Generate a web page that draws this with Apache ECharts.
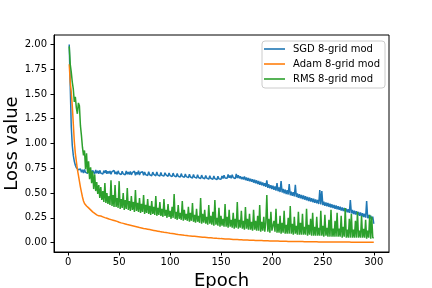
<!DOCTYPE html>
<html>
<head>
<meta charset="utf-8">
<script src="https://cdn.jsdelivr.net/npm/echarts@6/dist/echarts.min.js"></script>
<style>html,body{margin:0;padding:0;background:#fff}#c{width:432px;height:288px}</style>
</head>
<body>
<div id="c"></div>
<script>
var seriesNames = ['SGD 8-grid mod', 'Adam 8-grid mod', 'RMS 8-grid mod'];
var xTicks = [0, 50, 100, 150, 200, 250, 300];
var yTicks = [0, 0.25, 0.5, 0.75, 1.0, 1.25, 1.5, 1.75, 2.0];

var sgd = [
2.00,1.58,1.17,0.98,0.88,0.82,0.78,0.755,0.74,0.735,
0.715,0.742,0.71,0.735,0.702,0.738,0.708,0.725,0.698,0.732,
0.705,0.73,0.696,0.728,0.712,0.694,0.733,0.7,0.724,0.695,
0.729,0.701,0.718,0.692,0.726,0.703,0.731,0.694,0.72,0.698,
0.722,0.689,0.717,0.7,0.728,0.692,0.715,0.688,0.724,0.697,
0.712,0.686,0.72,0.694,0.709,0.684,0.723,0.69,0.713,0.687,
0.718,0.683,0.706,0.692,0.721,0.68,0.71,0.688,0.725,0.682,
0.707,0.69,0.715,0.679,0.712,0.686,0.704,0.677,0.716,0.684,
0.702,0.675,0.711,0.688,0.699,0.674,0.713,0.681,0.697,0.672,
0.708,0.678,0.694,0.671,0.705,0.683,0.692,0.668,0.703,0.676,
0.69,0.666,0.701,0.674,0.688,0.664,0.698,0.67,0.684,0.661,
0.696,0.668,0.682,0.658,0.693,0.665,0.679,0.655,0.69,0.662,
0.676,0.652,0.688,0.66,0.673,0.65,0.684,0.657,0.67,0.646,
0.681,0.654,0.667,0.643,0.678,0.651,0.664,0.64,0.675,0.648,
0.661,0.638,0.672,0.645,0.658,0.635,0.669,0.643,0.655,0.64,
0.672,0.646,0.68,0.652,0.668,0.648,0.688,0.655,0.676,0.65,
0.684,0.656,0.672,0.645,0.694,0.652,0.679,0.648,0.67,0.641,
0.662,0.636,0.668,0.63,0.657,0.625,0.652,0.62,0.645,0.614,
0.64,0.605,0.634,0.598,0.628,0.59,0.622,0.583,0.614,0.578,
0.606,0.57,0.6,0.562,0.628,0.553,0.588,0.547,0.58,0.54,
0.575,0.532,0.566,0.525,0.6,0.518,0.556,0.51,0.62,0.505,
0.542,0.498,0.535,0.49,0.528,0.485,0.59,0.478,0.515,0.472,
0.508,0.466,0.582,0.46,0.495,0.452,0.488,0.446,0.48,0.44,
0.475,0.433,0.468,0.427,0.46,0.42,0.455,0.415,0.448,0.408,
0.442,0.402,0.435,0.396,0.43,0.39,0.53,0.385,0.52,0.378,
0.412,0.372,0.405,0.366,0.4,0.36,0.393,0.354,0.386,0.348,
0.38,0.342,0.374,0.336,0.368,0.33,0.361,0.324,0.355,0.318,
0.35,0.312,0.343,0.306,0.337,0.3,0.43,0.295,0.33,0.289,
0.322,0.283,0.316,0.277,0.31,0.27,0.303,0.264,0.296,0.258,
0.29,0.252,0.42,0.246,0.278,0.24,0.272,0.233,0.262,0.19
];

var adam = [
1.80,1.62,1.52,1.38,1.20,1.02,0.90,0.82,0.74,0.68,
0.62,0.56,0.51,0.46,0.42,0.395,0.41,0.37,0.385,0.35,
0.36,0.33,0.345,0.31,0.32,0.295,0.305,0.28,0.285,0.27,
0.265,0.268,0.258,0.26,0.25,0.252,0.243,0.245,0.236,0.238,
0.231,0.232,0.225,0.226,0.219,0.22,0.213,0.214,0.208,0.205,
0.202,0.199,0.196,0.194,0.19,0.188,0.185,0.182,0.18,0.177,
0.174,0.172,0.169,0.167,0.164,0.162,0.159,0.157,0.155,0.152,
0.15,0.148,0.146,0.143,0.141,0.139,0.137,0.135,0.133,0.131,
0.129,0.127,0.125,0.123,0.121,0.119,0.117,0.115,0.113,0.111,
0.11,0.108,0.106,0.104,0.103,0.101,0.099,0.098,0.096,0.094,
0.093,0.091,0.09,0.088,0.087,0.085,0.084,0.082,0.081,0.08,
0.078,0.077,0.076,0.074,0.073,0.072,0.071,0.069,0.068,0.067,
0.066,0.065,0.064,0.063,0.062,0.061,0.06,0.059,0.058,0.057,
0.056,0.055,0.054,0.053,0.052,0.051,0.05,0.049,0.049,0.048,
0.047,0.046,0.045,0.045,0.044,0.043,0.042,0.042,0.041,0.04,
0.039,0.039,0.038,0.037,0.037,0.036,0.035,0.035,0.034,0.034,
0.033,0.032,0.032,0.031,0.031,0.03,0.03,0.029,0.029,0.028,
0.028,0.027,0.027,0.026,0.026,0.025,0.025,0.024,0.024,0.023,
0.023,0.023,0.022,0.022,0.021,0.021,0.021,0.02,0.02,0.02,
0.019,0.019,0.019,0.018,0.018,0.018,0.017,0.017,0.017,0.016,
0.016,0.016,0.016,0.015,0.015,0.015,0.015,0.014,0.014,0.014,
0.014,0.013,0.013,0.013,0.013,0.012,0.012,0.012,0.012,0.012,
0.011,0.011,0.011,0.011,0.011,0.01,0.01,0.01,0.01,0.01,
0.01,0.009,0.009,0.009,0.009,0.009,0.009,0.008,0.008,0.008,
0.008,0.008,0.008,0.008,0.007,0.007,0.007,0.007,0.007,0.007,
0.007,0.007,0.006,0.006,0.006,0.006,0.006,0.006,0.006,0.006,
0.006,0.006,0.005,0.005,0.005,0.005,0.005,0.005,0.005,0.005,
0.005,0.005,0.005,0.005,0.005,0.005,0.004,0.004,0.004,0.004,
0.004,0.004,0.004,0.004,0.004,0.004,0.004,0.004,0.004,0.004,
0.004,0.004,0.004,0.004,0.004,0.004,0.004,0.004,0.004,0.004
];

var rms = [
1.98,1.80,1.72,1.62,1.55,1.42,1.47,1.36,1.30,1.41,
1.38,1.18,1.08,0.96,0.88,0.93,0.74,0.9,0.7,0.82,
0.64,0.76,0.6,0.72,0.54,0.69,0.52,0.61,0.49,0.58,
0.45,0.56,0.43,0.52,0.41,0.6,0.4,0.5,0.39,0.47,
0.38,0.63,0.37,0.48,0.36,0.58,0.36,0.45,0.35,0.62,
0.34,0.44,0.35,0.5,0.33,0.43,0.34,0.55,0.33,0.42,
0.32,0.47,0.33,0.41,0.31,0.53,0.32,0.4,0.31,0.45,
0.3,0.39,0.31,0.48,0.29,0.38,0.3,0.44,0.29,0.37,
0.28,0.42,0.29,0.36,0.28,0.47,0.27,0.35,0.28,0.41,
0.27,0.34,0.26,0.44,0.27,0.33,0.25,0.39,0.26,0.32,
0.24,0.36,0.25,0.49,0.24,0.31,0.23,0.38,0.24,0.3,
0.23,0.42,0.22,0.33,0.23,0.29,0.22,0.36,0.21,0.3,
0.22,0.4,0.21,0.28,0.2,0.34,0.21,0.27,0.2,0.45,
0.19,0.29,0.2,0.33,0.19,0.26,0.18,0.38,0.19,0.27,
0.18,0.31,0.17,0.43,0.18,0.25,0.17,0.35,0.16,0.27,
0.17,0.24,0.16,0.39,0.16,0.26,0.15,0.33,0.16,0.23,
0.15,0.3,0.14,0.24,0.15,0.41,0.14,0.23,0.15,0.32,
0.14,0.22,0.13,0.36,0.14,0.24,0.13,0.29,0.13,0.21,
0.12,0.33,0.13,0.22,0.12,0.27,0.12,0.38,0.11,0.21,
0.12,0.26,0.11,0.2,0.48,0.11,0.24,0.1,0.31,0.12,
0.1,0.22,0.11,0.34,0.1,0.19,0.1,0.27,0.09,0.2,
0.1,0.32,0.09,0.18,0.09,0.25,0.09,0.37,0.09,0.19,
0.08,0.26,0.09,0.17,0.08,0.31,0.08,0.2,0.08,0.29,
0.08,0.16,0.08,0.34,0.07,0.18,0.08,0.24,0.07,0.3,
0.07,0.16,0.07,0.26,0.07,0.15,0.07,0.32,0.07,0.17,
0.06,0.28,0.07,0.15,0.06,0.23,0.06,0.33,0.06,0.14,
0.06,0.22,0.06,0.3,0.06,0.14,0.06,0.27,0.05,0.16,
0.06,0.35,0.05,0.13,0.05,0.24,0.05,0.29,0.05,0.13,
0.05,0.22,0.05,0.31,0.05,0.12,0.05,0.27,0.05,0.14,
0.05,0.23,0.04,0.12,0.05,0.28,0.04,0.26,0.05,0.05
];

function pairs(arr) {
  return arr.map(function (v, i) { return [i + 1, v]; });
}

var colors = ['#1f77b4', '#ff7f0e', '#2ca02c'];
var font = 'DejaVu Sans';
var chart = echarts.init(document.getElementById('c'), null, {renderer: 'canvas'});
chart.setOption({
  animation: false,
  backgroundColor: '#ffffff',
  color: colors,
  textStyle: {fontFamily: font},
  grid: {left: 54, right: 43, top: 35, bottom: 36, containLabel: false, outerBoundsMode: 'none',
    show: true, borderColor: '#000', borderWidth: 1, backgroundColor: 'transparent'},
  legend: {
    data: seriesNames,
    orient: 'vertical',
    left: 262,
    top: 41,
    padding: [2, 5, 3, 2],
    icon: 'rect',
    itemWidth: 21,
    itemHeight: 1.6,
    itemGap: 3,
    borderColor: '#cccccc',
    borderWidth: 1,
    borderRadius: 3,
    backgroundColor: '#ffffff',
    textStyle: {fontFamily: font, fontSize: 10, color: '#000', lineHeight: 12, padding: [0, 0, 0, 3]}
  },
  xAxis: {
    type: 'value',
    min: -13.95,
    max: 314.95,
    name: 'Epoch',
    nameLocation: 'middle',
    nameGap: 18,
    nameTextStyle: {fontFamily: font, fontSize: 18, color: '#000'},
    axisLine: {show: true, onZero: false, lineStyle: {color: '#000', width: 1}},
    axisTick: {show: true, length: 3.5, lineStyle: {color: '#000'}, customValues: xTicks},
    axisLabel: {fontFamily: font, fontSize: 10, color: '#000', margin: 5, customValues: xTicks},
    splitLine: {show: false}
  },
  yAxis: {
    type: 'value',
    min: -0.095,
    max: 2.095,
    name: 'Loss value',
    nameLocation: 'middle',
    nameGap: 33,
    nameMoveOverlap: false,
    nameTextStyle: {fontFamily: font, fontSize: 18, color: '#000'},
    axisLine: {show: true, onZero: false, lineStyle: {color: '#000', width: 1}},
    axisTick: {show: true, length: 3.5, lineStyle: {color: '#000'}, customValues: yTicks},
    axisLabel: {fontFamily: font, fontSize: 10, color: '#000', margin: 7, customValues: yTicks,
      formatter: function (v) { return v.toFixed(2); }},
    splitLine: {show: false}
  },
  series: [
    {name: seriesNames[0], type: 'line', data: pairs(sgd), showSymbol: false, symbol: 'none', lineStyle: {width: 1.5}, clip: true},
    {name: seriesNames[1], type: 'line', data: pairs(adam), showSymbol: false, symbol: 'none', lineStyle: {width: 1.5}, clip: true},
    {name: seriesNames[2], type: 'line', data: pairs(rms), showSymbol: false, symbol: 'none', lineStyle: {width: 1.5}, clip: true}
  ]
});
</script>
</body>
</html>
